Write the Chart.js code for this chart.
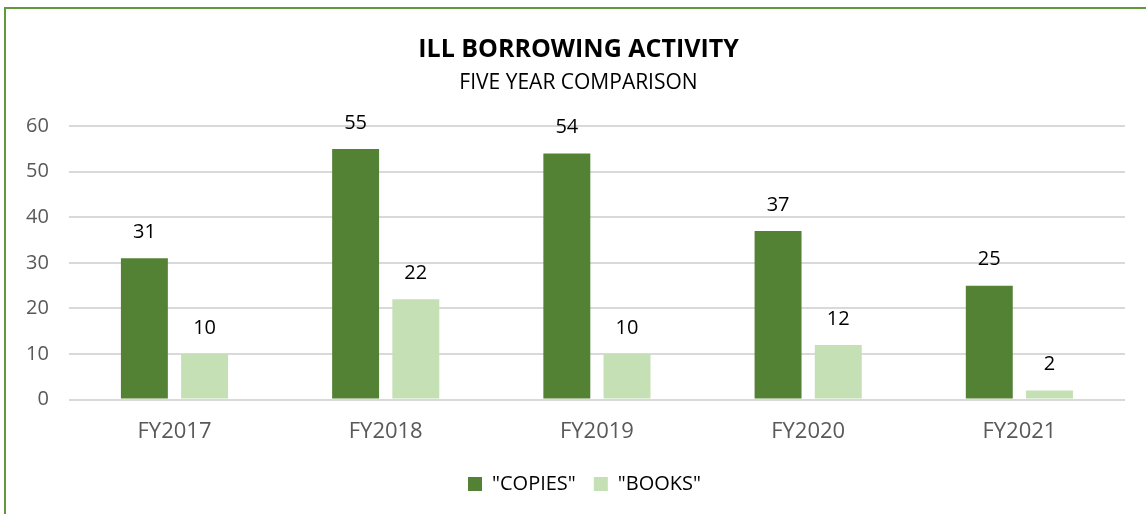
<!DOCTYPE html>
<html>
<head>
<meta charset="utf-8">
<script src="https://cdn.jsdelivr.net/npm/chart.js@4"></script>
<style>
  body { margin: 0; background: #fff; }
  #wrap { position: absolute; left: 0; top: 0; width: 1146px; height: 514px; }
</style>
</head>
<body>
<div id="wrap"><canvas id="ill-chart"></canvas></div>
<script>
const years = ['FY2017', 'FY2018', 'FY2019', 'FY2020', 'FY2021'];
const copies = [31, 55, 54, 37, 25];
const books = [10, 22, 10, 12, 2];
const yTicks = [0, 10, 20, 30, 40, 50, 60];

const illChart = document.getElementById('ill-chart');

// green frame round the chart area (right/bottom fall outside the window)
const framePlugin = {
  id: 'frame',
  beforeDraw(chart) {
    const ctx = chart.ctx;
    ctx.save();
    ctx.fillStyle = '#fff';
    ctx.fillRect(0, 0, chart.width, chart.height);
    ctx.strokeStyle = '#609a3c';
    ctx.lineWidth = 2;
    ctx.strokeRect(5, 8, chart.width + 10, chart.height + 10);
    ctx.restore();
  }
};

// the original chart is wider than the window, so its titles and legend sit a bit right of centre
const shiftBlocks = {
  id: 'shiftBlocks',
  afterLayout(chart) {
    chart.boxes.forEach(box => {
      let dx = 0;
      if (box.position === 'top' && box.options && box.options.text) dx = 13;
      if (box === chart.legend) dx = 19;
      box.left += dx;
      box.right += dx;
    });
  }
};

// value labels above each bar
const valueLabels = {
  id: 'valueLabels',
  afterDatasetsDraw(chart) {
    const ctx = chart.ctx;
    ctx.save();
    ctx.font = '20px "Open Sans", sans-serif';
    ctx.fillStyle = '#000';
    ctx.textAlign = 'center';
    ctx.textBaseline = 'middle';
    chart.data.datasets.forEach((ds, i) => {
      chart.getDatasetMeta(i).data.forEach((bar, j) => {
        ctx.fillText(ds.data[j], bar.x, bar.y - 26);
      });
    });
    ctx.restore();
  }
};

new Chart(illChart, {
  type: 'bar',
  data: {
    labels: years,
    datasets: [{
      label: '"COPIES"',
      data: copies,
      backgroundColor: '#548235',
      categoryPercentage: 0.57,
      barPercentage: 0.78
    }, {
      label: '"BOOKS"',
      data: books,
      backgroundColor: '#c5e0b4',
      categoryPercentage: 0.57,
      barPercentage: 0.78
    }]
  },
  options: {
    responsive: true,
    maintainAspectRatio: false,
    animation: false,
    layout: { padding: { left: 6, right: 21, top: 35, bottom: 10 } },
    plugins: {
      title: {
        display: true,
        text: 'ILL BORROWING ACTIVITY',
        color: '#000',
        font: { family: 'Open Sans', size: 25, weight: 'bold' },
        padding: { top: 0, bottom: 5 }
      },
      subtitle: {
        display: true,
        text: 'FIVE YEAR COMPARISON',
        color: '#000',
        font: { family: 'Open Sans', size: 21 },
        padding: { bottom: 31 }
      },
      legend: {
        position: 'bottom',
        labels: {
          color: '#000',
          font: { family: 'Open Sans', size: 20 },
          boxWidth: 14,
          boxHeight: 14,
          padding: 18
        }
      },
      tooltip: { enabled: false }
    },
    scales: {
      x: {
        grid: { display: false },
        border: { display: false },
        ticks: {
          color: '#595959',
          font: { family: 'Open Sans', size: 22 },
          padding: 11
        }
      },
      y: {
        min: 0,
        max: 60,
        afterBuildTicks(axis) {
          axis.ticks = yTicks.map(v => ({ value: v }));
        },
        grid: { color: '#d9d9d9', lineWidth: 2, drawTicks: false },
        border: { display: false },
        ticks: {
          color: '#595959',
          font: { family: 'Open Sans', size: 20 },
          padding: 20
        }
      }
    }
  },
  plugins: [framePlugin, shiftBlocks, valueLabels]
});
</script>
</body>
</html>
